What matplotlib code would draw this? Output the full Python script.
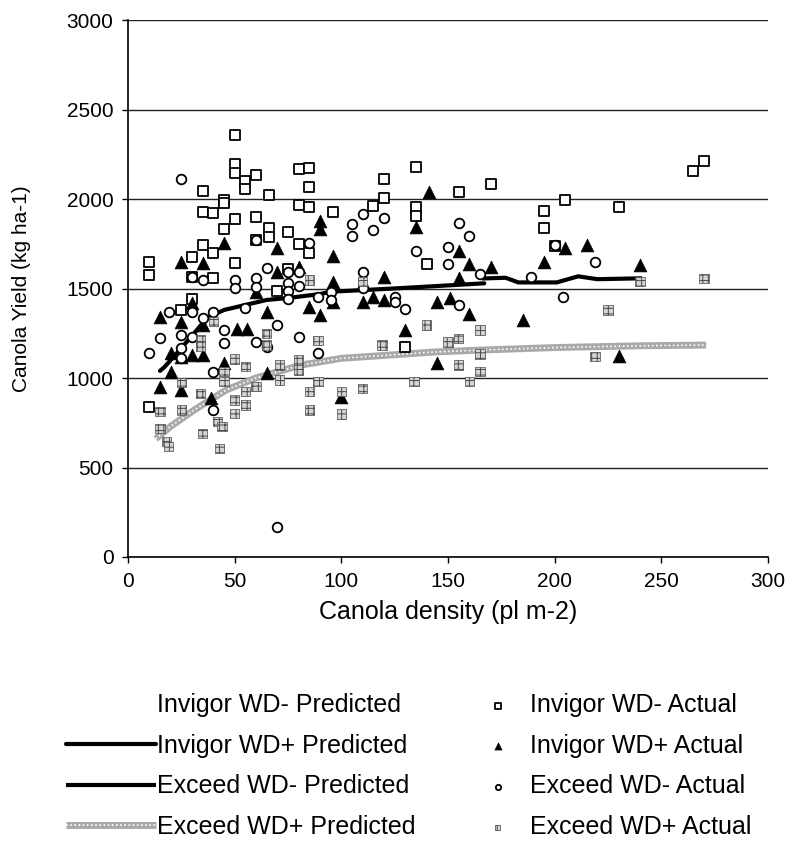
import matplotlib
matplotlib.use("Agg")
import matplotlib.pyplot as plt
from matplotlib.lines import Line2D
from matplotlib.legend_handler import HandlerTuple

plt.rcParams['font.family'] = ['Liberation Sans', 'DejaVu Sans']
plt.rcParams['hatch.linewidth'] = 0.7

FS_TICK = 15
FS_LABEL = 18

# ---- observed yields (kg ha-1) versus canola density (pl m-2) ----
invigor_wdm_x = [10, 10, 10, 25, 30, 30, 30, 35, 35, 35, 40, 40, 40, 45, 45, 45,
                 50, 50, 50, 50, 50, 55, 55, 60, 60, 60, 66, 66, 66, 70, 75, 75,
                 80, 80, 80, 85, 85, 85, 85, 96, 115, 120, 120, 130, 135, 135, 135,
                 140, 155, 170, 195, 195, 200, 205, 230, 265, 270]
invigor_wdm_y = [1650, 1575, 840, 1380, 1440, 1566, 1678, 2045, 1930, 1745, 1920, 1697,
                 1557, 1995, 1975, 1830, 2360, 2195, 2145, 1890, 1640, 2100, 2055, 2135,
                 1900, 1771, 2020, 1840, 1790, 1484, 1815, 1608, 2165, 1965, 1750, 2175,
                 2065, 1955, 1700, 1929, 1961, 2110, 2007, 1171, 2177, 1953, 1905, 1635,
                 2041, 2084, 1935, 1836, 1737, 1992, 1957, 2158, 2212]

invigor_wdp_x = [15, 15, 20, 20, 25, 25, 25, 25, 30, 30, 35, 35, 35, 39, 45, 45, 51, 56,
                 60, 65, 65, 70, 70, 80, 85, 90, 90, 90, 96, 96, 96, 100, 110, 115, 120,
                 120, 130, 135, 141, 145, 145, 151, 155, 155, 160, 160, 170, 185, 195,
                 205, 215, 230, 240]
invigor_wdp_y = [1342, 951, 1138, 1035, 1650, 1315, 1119, 933, 1417, 1128, 1641, 1296,
                 1128, 890, 1752, 1085, 1273, 1273, 1478, 1370, 1026, 1725, 1594, 1618,
                 1394, 1875, 1830, 1350, 1683, 1538, 1426, 895, 1422, 1454, 1566, 1436,
                 1268, 1842, 2041, 1423, 1082, 1445, 1709, 1557, 1635, 1356, 1622, 1325,
                 1650, 1725, 1743, 1124, 1631]

exceed_wdm_x = [10, 15, 19, 25, 25, 25, 25, 30, 30, 30, 35, 35, 40, 40, 40, 45, 45, 50,
                50, 55, 60, 60, 60, 60, 65, 65, 70, 70, 75, 75, 75, 75, 80, 80, 80, 85,
                89, 89, 95, 95, 105, 105, 110, 110, 110, 115, 120, 125, 125, 130, 135,
                150, 150, 155, 155, 160, 165, 189, 200, 204, 219]
exceed_wdm_y = [1138, 1222, 1370, 2112, 1240, 1166, 1110, 1566, 1370, 1231, 1547, 1333,
                1370, 1035, 821, 1268, 1194, 1547, 1501, 1389, 1771, 1557, 1510, 1203,
                1613, 1175, 1296, 169, 1594, 1532, 1486, 1440, 1594, 1514, 1231, 1752,
                1454, 1141, 1482, 1436, 1858, 1793, 1916, 1594, 1501, 1827, 1896, 1454,
                1422, 1385, 1711, 1734, 1635, 1868, 1408, 1793, 1579, 1562, 1743, 1454,
                1650]

exceed_wdp_x = [15, 15, 18, 19, 25, 25, 34, 34, 34, 35, 40, 42, 44, 43, 45, 45, 50, 50,
                50, 55, 55, 55, 60, 65, 65, 71, 71, 80, 80, 85, 85, 85, 89, 89, 100, 100,
                110, 110, 119, 134, 140, 150, 155, 155, 160, 165, 165, 165, 219, 225, 240,
                270]
exceed_wdp_y = [812, 719, 644, 616, 975, 821, 1212, 1175, 914, 691, 1315, 756, 728, 607,
                1035, 979, 1105, 877, 803, 1063, 924, 849, 951, 1250, 1184, 1073, 989,
                1101, 1045, 1547, 924, 821, 1208, 979, 924, 798, 1538, 942, 1184, 979, 1296,
                1200, 1222, 1073, 979, 1268, 1133, 1035, 1119, 1380, 1538, 1557]

# ---- fitted (predicted) yield curves ----
pred_invigor_wdp_x = [15, 17, 23, 31, 37, 45, 55, 65, 75, 90, 95, 126, 167]
pred_invigor_wdp_y = [1040, 1060, 1140, 1250, 1335, 1380, 1408, 1436, 1447, 1469, 1482, 1501, 1529]

pred_exceed_wdm_x = [166, 177, 183, 201, 211, 220, 241]
pred_exceed_wdm_y = [1556, 1560, 1534, 1534, 1568, 1552, 1557]

pred_exceed_wdp_x = [13, 20, 31, 46, 60, 81, 100, 125, 143, 165, 200, 240, 271]
pred_exceed_wdp_y = [660, 730, 821, 933, 1000, 1072, 1110, 1130, 1145, 1156, 1170, 1180, 1184]

x_ticks = [0, 50, 100, 150, 200, 250, 300]
y_ticks = [0, 500, 1000, 1500, 2000, 2500, 3000]

fig = plt.figure(figsize=(7.94, 8.46), dpi=100)
ax = fig.add_axes([128 / 794, 1 - 557 / 846, 640 / 794, 537 / 846])

ax.set_xlim(0, 300)
ax.set_ylim(0, 3000)
ax.set_xticks(x_ticks)
ax.set_yticks(y_ticks)
ax.tick_params(axis='both', labelsize=FS_TICK, direction='out', length=4.5, width=1,
               color='black')
ax.tick_params(axis='x', pad=6)
ax.tick_params(axis='y', pad=6)
ax.yaxis.grid(True, color='#222222', lw=1.0)
ax.set_axisbelow(True)
for side in ('top', 'right'):
    ax.spines[side].set_visible(False)
ax.spines['left'].set_linewidth(1.2)
ax.spines['bottom'].set_linewidth(1.2)

# predicted curves
ln_iwp, = ax.plot(pred_invigor_wdp_x, pred_invigor_wdp_y, color='black', lw=3,
                  solid_capstyle='round', zorder=2)
ln_ewm, = ax.plot(pred_exceed_wdm_x, pred_exceed_wdm_y, color='black', lw=3,
                  solid_capstyle='butt', zorder=2)
ln_ewp_a, = ax.plot(pred_exceed_wdp_x, pred_exceed_wdp_y, color='#a9a9a9', lw=5,
                    solid_capstyle='butt', zorder=2)
ln_ewp_b, = ax.plot(pred_exceed_wdp_x, pred_exceed_wdp_y, color='white', lw=1.2,
                    ls=(0, (1, 1.5)), zorder=2)

# observed points
sc_iwm = ax.scatter(invigor_wdm_x, invigor_wdm_y, marker='s', s=46, facecolor='white',
                    edgecolor='black', linewidths=1.3, zorder=3)
sc_iwp = ax.scatter(invigor_wdp_x, invigor_wdp_y, marker='^', s=85, facecolor='black',
                    edgecolor='black', linewidths=0.5, zorder=3)
sc_ewm = ax.scatter(exceed_wdm_x, exceed_wdm_y, marker='o', s=48, facecolor='white',
                    edgecolor='black', linewidths=1.3, zorder=3)
sc_ewp = ax.scatter(exceed_wdp_x, exceed_wdp_y, marker='s', s=46, facecolor='#d4d4d4',
                    edgecolor='#4a4a4a', linewidths=0.5, hatch='+++', zorder=3)

fig.text(22 / 794, 1 - 289 / 846, 'Canola Yield (kg ha-1)', rotation=90,
         ha='center', va='center', fontsize=FS_TICK)
fig.text(448 / 794, 1 - 612 / 846, 'Canola density (pl m-2)',
         ha='center', va='center', fontsize=FS_LABEL)

blank = Line2D([], [], color='none')
leg1 = fig.legend([blank, ln_iwp, ln_ewm, (ln_ewp_a, ln_ewp_b)],
                  ['Invigor WD- Predicted', 'Invigor WD+ Predicted',
                   'Exceed WD- Predicted', 'Exceed WD+ Predicted'],
                  handler_map={tuple: HandlerTuple(ndivide=1, pad=0)},
                  loc='center left', bbox_to_anchor=(66 / 794, 1 - 766 / 846),
                  frameon=False, fontsize=FS_LABEL, handlelength=3.6, handletextpad=0.05,
                  labelspacing=0.66, borderpad=0, borderaxespad=0)
leg2 = fig.legend([sc_iwm, sc_iwp, sc_ewm, sc_ewp],
                  ['Invigor WD- Actual', 'Invigor WD+ Actual',
                   'Exceed WD- Actual', 'Exceed WD+ Actual'],
                  loc='center left', bbox_to_anchor=(485 / 794, 1 - 766 / 846),
                  frameon=False, fontsize=FS_LABEL, handlelength=1.0, handletextpad=0.82,
                  labelspacing=0.66, borderpad=0, borderaxespad=0,
                  scatterpoints=1, markerscale=0.55)

fig.savefig('out.png', dpi=100)
